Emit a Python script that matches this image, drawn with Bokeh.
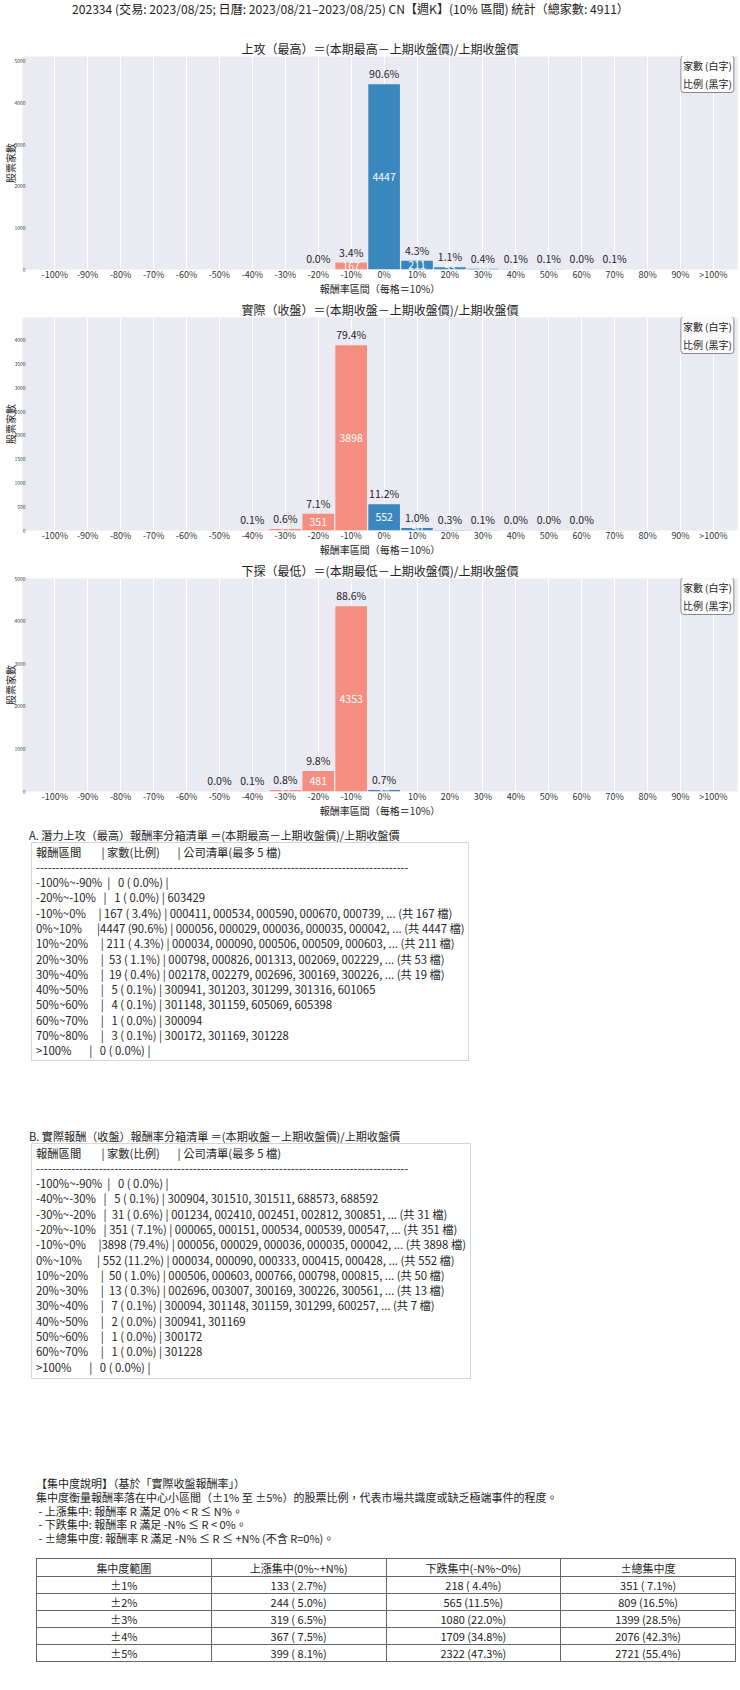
import html
from bokeh.plotting import figure
from bokeh.models import Range1d, FixedTicker, Label, Div, ColumnDataSource
from bokeh.layouts import column
from bokeh.embed import file_html
from bokeh.resources import INLINE
from bokeh.core.properties import value

FONT = "Noto Sans CJK TC"
TOTAL = 4911
NEG_COLOR = "#f58d80"
POS_COLOR = "#3a87c0"

main_title = "202334 (交易: 2023/08/25; 日曆: 2023/08/21–2023/08/25) CN【週K】(10% 區間) 統計（總家數: 4911）"

tick_labels = ["-100%", "-90%", "-80%", "-70%", "-60%", "-50%", "-40%", "-30%", "-20%", "-10%",
               "0%", "10%", "20%", "30%", "40%", "50%", "60%", "70%", "80%", "90%", ">100%"]
high_counts = [0, 0, 0, 0, 0, 0, 0, 0, 1, 167, 4447, 211, 53, 19, 5, 4, 1, 3, 0, 0, 0]
close_counts = [0, 0, 0, 0, 0, 0, 5, 31, 351, 3898, 552, 50, 13, 7, 2, 1, 1, 0, 0, 0, 0]
low_counts = [0, 0, 0, 0, 0, 1, 5, 37, 481, 4353, 34, 0, 0, 0, 0, 0, 0, 0, 0, 0, 0]

chart_titles = ["上攻（最高）＝(本期最高－上期收盤價)/上期收盤價",
                "實際（收盤）＝(本期收盤－上期收盤價)/上期收盤價",
                "下探（最低）＝(本期最低－上期收盤價)/上期收盤價"]
y_steps = [1000, 500, 1000]
x_label = "報酬率區間（每格＝10%）"
y_label = "股票家數"
legend_text = "家數 (白字)\n比例 (黑字)"

list_a_title = "A. 潛力上攻（最高）報酬率分箱清單 ＝(本期最高－上期收盤價)/上期收盤價"
list_a_bins = ["-100%~-90%", "-20%~-10%", "-10%~0%", "0%~10%", "10%~20%", "20%~30%",
               "30%~40%", "40%~50%", "50%~60%", "60%~70%", "70%~80%", ">100%"]
list_a_counts = [0, 1, 167, 4447, 211, 53, 19, 5, 4, 1, 3, 0]
list_a_codes = [[], ["603429"],
                ["000411", "000534", "000590", "000670", "000739"],
                ["000056", "000029", "000036", "000035", "000042"],
                ["000034", "000090", "000506", "000509", "000603"],
                ["000798", "000826", "001313", "002069", "002229"],
                ["002178", "002279", "002696", "300169", "300226"],
                ["300941", "301203", "301299", "301316", "601065"],
                ["301148", "301159", "605069", "605398"],
                ["300094"],
                ["300172", "301169", "301228"],
                []]

list_b_title = "B. 實際報酬（收盤）報酬率分箱清單 ＝(本期收盤－上期收盤價)/上期收盤價"
list_b_bins = ["-100%~-90%", "-40%~-30%", "-30%~-20%", "-20%~-10%", "-10%~0%", "0%~10%",
               "10%~20%", "20%~30%", "30%~40%", "40%~50%", "50%~60%", "60%~70%", ">100%"]
list_b_counts = [0, 5, 31, 351, 3898, 552, 50, 13, 7, 2, 1, 1, 0]
list_b_codes = [[],
                ["300904", "301510", "301511", "688573", "688592"],
                ["001234", "002410", "002451", "002812", "300851"],
                ["000065", "000151", "000534", "000539", "000547"],
                ["000056", "000029", "000036", "000035", "000042"],
                ["000034", "000090", "000333", "000415", "000428"],
                ["000506", "000603", "000766", "000798", "000815"],
                ["002696", "003007", "300169", "300226", "300561"],
                ["300094", "301148", "301159", "301299", "600257"],
                ["300941", "301169"],
                ["300172"],
                ["301228"],
                []]

conc_lines = ["【集中度說明】（基於「實際收盤報酬率」）",
              "集中度衡量報酬率落在中心小區間（±1% 至 ±5%）的股票比例，代表市場共識度或缺乏極端事件的程度。",
              " - 上漲集中: 報酬率 R 滿足 0% < R ≤ N%。",
              " - 下跌集中: 報酬率 R 滿足 -N% ≤ R < 0%。",
              " - ±總集中度: 報酬率 R 滿足 -N% ≤ R ≤ +N% (不含 R=0%)。"]
conc_header = ["集中度範圍", "上漲集中(0%~+N%)", "下跌集中(-N%~0%)", "±總集中度"]
conc_ranges = ["±1%", "±2%", "±3%", "±4%", "±5%"]
conc_up = [133, 244, 319, 367, 399]
conc_down = [218, 565, 1080, 1709, 2322]
conc_total = [351, 809, 1399, 2076, 2721]


def make_chart(title_text, counts, ystep):
    ymax = max(counts) * 1.15
    p = figure(width=740, height=261, x_range=Range1d(-0.98, 20.73), y_range=Range1d(0, ymax),
               output_backend="svg", toolbar_location=None, title=title_text,
               min_border_top=18, min_border_bottom=20, min_border_left=0, min_border_right=3)
    p.margin = (0, 0, 0, 0)
    xs = list(range(len(counts)))
    colors = [NEG_COLOR if i < 10 else POS_COLOR for i in xs]
    src = ColumnDataSource(dict(x=xs, top=counts, color=colors))
    p.vbar(x="x", top="top", width=0.96, fill_color="color", line_color=None, source=src)
    nz = [i for i in xs if counts[i] > 0]
    lab = ColumnDataSource(dict(
        x=nz, top=[counts[i] for i in nz], mid=[counts[i] / 2 for i in nz],
        pct=[f"{counts[i] / TOTAL * 100:.1f}%" for i in nz], cnt=[str(counts[i]) for i in nz]))
    p.text(x="x", y="mid", text="cnt", source=lab, text_align="center", text_baseline="middle",
           text_font=value(FONT), text_font_size="10.5px", text_color="white")
    p.text(x="x", y="top", text="pct", source=lab, text_align="center", text_baseline="bottom",
           y_offset=-3, text_font=value(FONT), text_font_size="10.5px", text_color="#222222")

    p.background_fill_color = "#eaeaf2"
    p.border_fill_color = "white"
    p.outline_line_color = None

    p.xaxis.ticker = FixedTicker(ticks=xs)
    p.xaxis.major_label_overrides = {i: tick_labels[i] for i in xs}
    p.xaxis.major_label_text_font = FONT
    p.xaxis.major_label_text_font_size = "9px"
    p.xaxis.major_label_text_color = "#333333"
    p.xaxis.major_label_standoff = -2
    p.xaxis.axis_label = x_label
    p.xaxis.axis_label_text_font = FONT
    p.xaxis.axis_label_text_font_size = "10px"
    p.xaxis.axis_label_text_font_style = "normal"
    p.xaxis.axis_label_text_color = "#222222"
    p.xaxis.axis_label_standoff = -3
    p.xaxis.axis_line_color = None
    p.xaxis.major_tick_line_color = None
    p.xaxis.minor_tick_line_color = None
    p.xaxis.major_tick_out = 0
    p.xaxis.major_tick_in = 0
    p.xaxis.minor_tick_out = 0
    p.xaxis.minor_tick_in = 0

    p.yaxis.ticker = FixedTicker(ticks=list(range(0, int(ymax) + 1, ystep)))
    p.yaxis.major_label_text_font = FONT
    p.yaxis.major_label_text_font_size = "5px"
    p.yaxis.major_label_text_color = "#444444"
    p.yaxis.major_label_standoff = -3
    p.yaxis.axis_label = y_label
    p.yaxis.axis_label_text_font = FONT
    p.yaxis.axis_label_text_font_size = "10px"
    p.yaxis.axis_label_text_font_style = "normal"
    p.yaxis.axis_label_text_color = "#222222"
    p.yaxis.axis_label_standoff = -7
    p.yaxis.axis_line_color = None
    p.yaxis.major_tick_line_color = None
    p.yaxis.minor_tick_line_color = None
    p.yaxis.major_tick_out = 0
    p.yaxis.major_tick_in = 0
    p.yaxis.minor_tick_out = 0
    p.yaxis.minor_tick_in = 0

    p.xgrid.ticker = p.xaxis.ticker
    p.xgrid.grid_line_color = "white"
    p.xgrid.grid_line_width = 1
    p.ygrid.grid_line_color = None

    p.title.align = "center"
    p.title.text_font = FONT
    p.title.text_font_size = "12px"
    p.title.text_font_style = "normal"
    p.title.text_color = "#222222"
    p.title.standoff = 0

    leg = Label(x=20.62, y=ymax, text=legend_text, text_align="right", text_baseline="top",
                y_offset=1, text_font=FONT, text_font_size="10px", text_color="#222222",
                background_fill_color="white", background_fill_alpha=0.85,
                border_line_color="#888888", border_line_width=1, padding=2, border_radius=3)
    p.add_layout(leg)
    return p


def list_lines(bins, counts, codes):
    lines = ["報酬區間" + " " * 8 + "| 家數(比例)" + " " * 7 + "| 公司清單(最多 5 檔)", "-" * 95]
    for b, c, cl in zip(bins, counts, codes):
        s = ", ".join(cl)
        if c > 5:
            s += f", ... (共 {c} 檔)"
        pct = c / TOTAL * 100
        lines.append(f"{b:<12}|{c:>4} ({pct:>4.1f}%) | {s}")
    return "\n".join(html.escape(l) for l in lines)


title_div = Div(text=(f'<div style="position:relative; top:2px; padding-left:72px; white-space:nowrap; '
                      f'font-family:\'{FONT}\'; font-size:12.1px; line-height:14px; color:#222;">'
                      f'{html.escape(main_title)}</div>'),
                width=740, height=37, margin=(0, 0, 0, 0))

charts = [make_chart(t, c, s) for t, c, s in zip(chart_titles, [high_counts, close_counts, low_counts], y_steps)]

pre_style = (f"margin:0; padding:1.5px 0 0 4px; font-family:'{FONT}'; font-size:11.3px; "
             "line-height:15.3px; color:#222; white-space:pre;")
box_style = "position:absolute; border:1px solid #d6d6d6; background:white; box-sizing:border-box;"
title_style = (f"position:absolute; font-family:'{FONT}'; font-size:11.1px; line-height:16px; "
               "color:#222; white-space:nowrap;")

cell = "border:1px solid #666; text-align:center; padding:0; height:17px;"
rows_html = "<tr>" + "".join(f'<td style="{cell} height:18px;">{html.escape(h)}</td>' for h in conc_header) + "</tr>"
for r, u, d, t in zip(conc_ranges, conc_up, conc_down, conc_total):
    vals = [r, f"{u} ({u / TOTAL * 100:>4.1f}%)", f"{d} ({d / TOTAL * 100:>4.1f}%)", f"{t} ({t / TOTAL * 100:>4.1f}%)"]
    rows_html += "<tr>" + "".join(f'<td style="{cell}">{html.escape(v)}</td>' for v in vals) + "</tr>"

conc_html = "<br>".join(html.escape(l).replace(" ", "&nbsp;", 1) if l.startswith(" ") else html.escape(l) for l in conc_lines)

text_html = f'''
<div style="position:relative; width:740px; height:860px; font-family:'{FONT}'; color:#222;">
  <div style="{title_style} left:29px; top:7px;">{html.escape(list_a_title)}</div>
  <div style="{box_style} left:31px; top:22px; width:438px; height:219px;">
    <pre style="{pre_style}">{list_lines(list_a_bins, list_a_counts, list_a_codes)}</pre>
  </div>
  <div style="{title_style} left:29px; top:308px;">{html.escape(list_b_title)}</div>
  <div style="{box_style} left:31px; top:323px; width:440px; height:236px;">
    <pre style="{pre_style}">{list_lines(list_b_bins, list_b_counts, list_b_codes)}</pre>
  </div>
  <div style="position:absolute; left:36px; top:657px; font-size:11px; line-height:13.8px; white-space:nowrap;">{conc_html}</div>
  <table style="position:absolute; left:36px; top:738px; width:700px; border-collapse:collapse; table-layout:fixed;
                font-family:'{FONT}'; font-size:11px; line-height:14px; color:#222;">
    {rows_html}
  </table>
</div>
'''
text_div = Div(text=text_html, width=740, height=860, margin=(0, 0, 0, 0))

layout = column(title_div, *charts, text_div, spacing=0, margin=(0, 0, 0, 0))

open("out.html", "w").write(file_html(layout, INLINE))
